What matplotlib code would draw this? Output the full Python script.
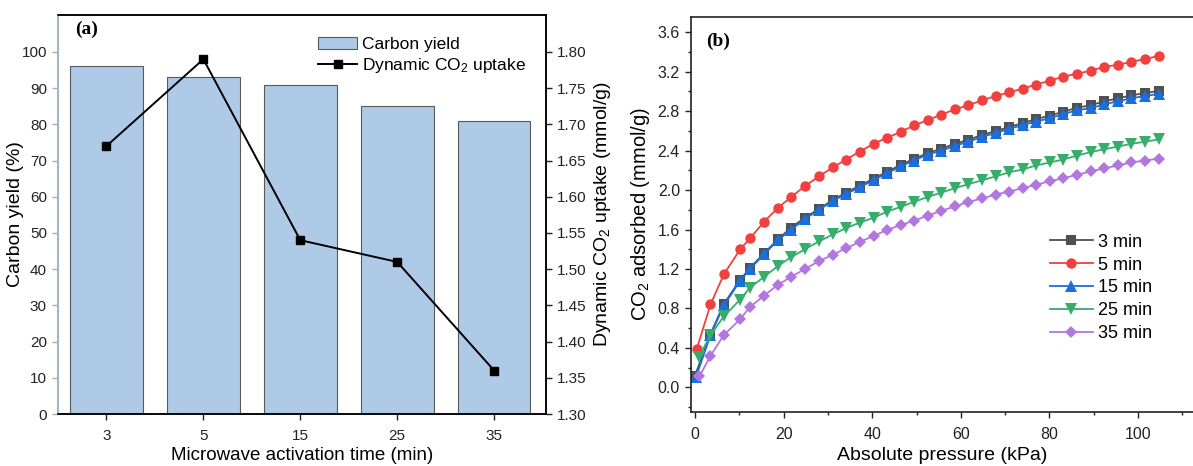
import matplotlib
matplotlib.use("Agg")
import matplotlib.pyplot as plt
from matplotlib.ticker import MultipleLocator, FormatStrFormatter

plt.rcParams['font.family'] = ['Liberation Sans', 'DejaVu Sans']
plt.rcParams['mathtext.default'] = 'regular'

# ---------------- Panel (a) data ----------------
activation_times = ['3', '5', '15', '25', '35']
carbon_yield = [96, 93, 91, 85, 81]
co2_uptake = [1.67, 1.79, 1.54, 1.51, 1.36]

# ---------------- Panel (b) data ----------------
pressure = [0.4, 3.5, 6.5, 10.2, 12.4, 15.6, 18.7, 21.7, 24.8, 28.0, 31.1, 34.1,
            37.2, 40.3, 43.3, 46.4, 49.4, 52.5, 55.6, 58.7, 61.7, 64.8, 67.9, 70.9,
            74.0, 77.0, 80.1, 83.1, 86.2, 89.3, 92.4, 95.4, 98.5, 101.6, 104.7]
first_pressure = {'3 min': 0.0, '5 min': 0.4, '15 min': 0.2, '25 min': 0.9, '35 min': 1.0}

ads_3 = [0.12, 0.54, 0.845, 1.09, 1.21, 1.36, 1.50, 1.62, 1.72, 1.81, 1.90, 1.975,
         2.045, 2.115, 2.185, 2.255, 2.315, 2.375, 2.42, 2.47, 2.51, 2.56, 2.60, 2.64,
         2.68, 2.72, 2.755, 2.795, 2.835, 2.86, 2.90, 2.93, 2.96, 2.985, 3.005]
ads_5 = [0.39, 0.84, 1.145, 1.40, 1.51, 1.68, 1.82, 1.93, 2.04, 2.14, 2.23, 2.31,
         2.39, 2.47, 2.53, 2.59, 2.655, 2.71, 2.765, 2.82, 2.86, 2.91, 2.955, 2.99,
         3.03, 3.07, 3.11, 3.15, 3.18, 3.21, 3.25, 3.27, 3.30, 3.33, 3.36]
ads_15 = [0.10, 0.53, 0.83, 1.08, 1.20, 1.35, 1.49, 1.60, 1.706, 1.80, 1.89, 1.96,
          2.03, 2.10, 2.17, 2.24, 2.30, 2.36, 2.40, 2.45, 2.49, 2.54, 2.58, 2.62,
          2.66, 2.695, 2.73, 2.77, 2.81, 2.83, 2.87, 2.90, 2.93, 2.955, 2.975]
ads_25 = [0.31, 0.53, 0.72, 0.89, 1.01, 1.12, 1.23, 1.32, 1.40, 1.48, 1.55, 1.615,
          1.67, 1.72, 1.78, 1.83, 1.88, 1.93, 1.975, 2.02, 2.06, 2.10, 2.14, 2.18,
          2.21, 2.25, 2.28, 2.31, 2.35, 2.385, 2.415, 2.44, 2.47, 2.49, 2.515]
ads_35 = [0.11, 0.32, 0.53, 0.69, 0.815, 0.93, 1.04, 1.12, 1.20, 1.28, 1.345, 1.41,
          1.475, 1.535, 1.595, 1.645, 1.69, 1.74, 1.79, 1.835, 1.88, 1.915, 1.955, 1.985,
          2.02, 2.055, 2.09, 2.12, 2.155, 2.19, 2.22, 2.25, 2.28, 2.30, 2.32]

series_labels = ['3 min', '5 min', '15 min', '25 min', '35 min']
series_values = [ads_3, ads_5, ads_15, ads_25, ads_35]
series_colors = ['#515151', '#F14040', '#1A6FDF', '#37AD6B', '#B177DE']
series_markers = ['s', 'o', '^', 'v', 'D']
series_msizes = [7.0, 7.5, 8.0, 8.0, 6.5]

W, H = 1193, 466
fig = plt.figure(figsize=(W / 100, H / 100), dpi=100)

# ================= Panel (a) =================
axL = fig.add_axes([58 / W, 1 - 414 / H, 487.5 / W, 399 / H])
xpos = list(range(len(activation_times)))
axL.bar(xpos, carbon_yield, width=0.75, color='#AECAE6', edgecolor='#5a5a5a',
        linewidth=0.8, label='Carbon yield', zorder=2)
axL.set_xlim(-0.5, 4.53)
axL.set_ylim(0, 110.2)
axL.set_xticks(xpos)
axL.set_xticklabels(activation_times)
axL.set_yticks(range(0, 101, 10))
axL.set_ylabel('Carbon yield (%)', fontsize=14, labelpad=-2)
axL.set_xlabel('Microwave activation time (min)', fontsize=13.5, labelpad=3)
axL.tick_params(axis='both', direction='out', length=4.5, width=1, labelsize=11, colors='#222222')
axL.tick_params(axis='x', pad=6)
axL.tick_params(axis='y', color='#9fb0c4')
axL.spines['left'].set_color('#9fb0c4')
for s in ['top', 'bottom', 'right']:
    axL.spines[s].set_color('black')
for s in axL.spines.values():
    s.set_linewidth(1.1)

axR = axL.twinx()
axR.plot(xpos, co2_uptake, color='black', marker='s', markersize=6, linewidth=1.4,
         label='Dynamic CO$_2$ uptake', zorder=3)
axR.set_ylim(1.30, 1.851)
axR.set_yticks([1.30, 1.35, 1.40, 1.45, 1.50, 1.55, 1.60, 1.65, 1.70, 1.75, 1.80])
axR.yaxis.set_major_formatter(FormatStrFormatter('%.2f'))
axR.tick_params(axis='y', direction='out', length=4.5, width=1, labelsize=11, colors='#222222')
axR.set_ylabel('Dynamic CO$_2$ uptake (mmol/g)', fontsize=14, labelpad=4)
axR.spines['left'].set_color('#9fb0c4')
for s in axR.spines.values():
    s.set_linewidth(1.1)

h1, l1 = axL.get_legend_handles_labels()
h2, l2 = axR.get_legend_handles_labels()
axR.legend(h1 + h2, l1 + l2, loc='upper left', bbox_to_anchor=(0.52, 0.962),
           frameon=False, fontsize=12.5, handlelength=2.2, handletextpad=0.3,
           labelspacing=0.2, borderaxespad=0)
axL.text(0.035, 0.985, '(a)', transform=axL.transAxes, fontsize=14, fontweight='bold',
         family=['Liberation Serif', 'DejaVu Serif'], va='top', ha='left')

# ================= Panel (b) =================
axB = fig.add_axes([691 / W, 1 - 412 / H, (W - 691) / W, 395 / H])
for lab, vals, col, mk, ms in zip(series_labels, series_values, series_colors,
                                  series_markers, series_msizes):
    xs = [first_pressure[lab]] + pressure[1:]
    axB.plot(xs, vals, color=col, marker=mk, markersize=ms, linewidth=1.3,
             label=lab, markeredgewidth=0)
axB.set_xlim(-0.9, 112.4)
axB.set_ylim(-0.25, 3.755)
axB.xaxis.set_major_locator(MultipleLocator(20))
axB.xaxis.set_minor_locator(MultipleLocator(10))
axB.yaxis.set_major_locator(MultipleLocator(0.4))
axB.yaxis.set_minor_locator(MultipleLocator(0.2))
axB.yaxis.set_major_formatter(FormatStrFormatter('%.1f'))
axB.tick_params(which='major', direction='out', length=4.5, width=1, labelsize=11.5,
                colors='#222222')
axB.tick_params(axis='x', which='major', pad=6)
axB.tick_params(which='minor', direction='out', length=2.5, width=1, colors='#222222')
axB.spines['right'].set_visible(False)
for s in ['left', 'bottom', 'top']:
    axB.spines[s].set_linewidth(1.2)
    axB.spines[s].set_color('#222222')
axB.set_xlabel('Absolute pressure (kPa)', fontsize=14, labelpad=4)
axB.set_ylabel('CO$_2$ adsorbed (mmol/g)', fontsize=14.5, labelpad=4)
axB.legend(loc='upper left', bbox_to_anchor=(0.70, 0.47), frameon=False, fontsize=13,
           handlelength=2.4, handletextpad=0.3, labelspacing=0.33, borderaxespad=0)
axB.text(0.03, 0.96, '(b)', transform=axB.transAxes, fontsize=14, fontweight='bold',
         family=['Liberation Serif', 'DejaVu Serif'], va='top', ha='left')

fig.savefig('out.png', dpi=100)
